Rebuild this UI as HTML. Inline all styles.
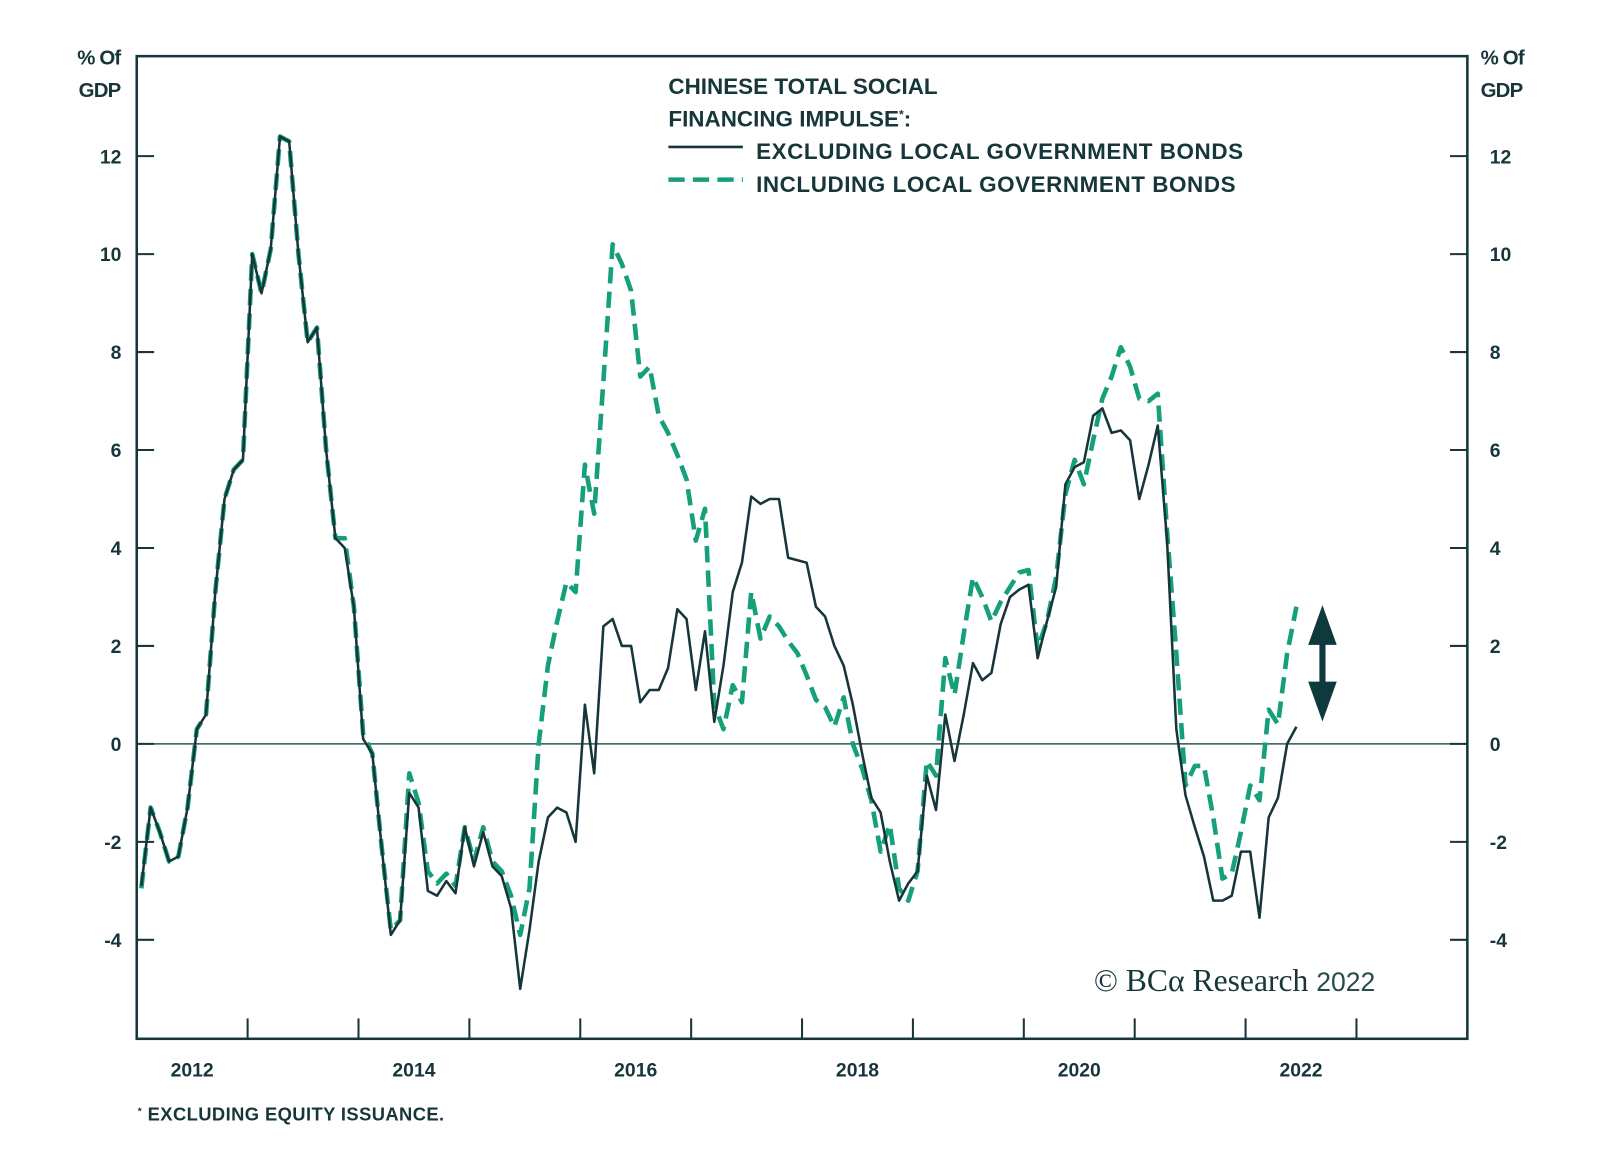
<!DOCTYPE html>
<html><head><meta charset="utf-8"><style>
html,body{margin:0;padding:0;background:#fff;}
svg{display:block;}
text{font-family:"Liberation Sans",sans-serif;fill:#17363a;}
.b{font-weight:bold;}
</style></head><body>
<svg id="chart" width="1600" height="1168" viewBox="0 0 1568 1144.6" xmlns="http://www.w3.org/2000/svg">
<g id="axes"></g>
<g id="series"></g>
<g>
<text x="655" y="92" font-size="22" class="b" letter-spacing="0">CHINESE TOTAL SOCIAL</text>
<text x="655" y="124" font-size="22" class="b" letter-spacing="0">FINANCING IMPULSE<tspan font-size="12" dy="-8">*</tspan><tspan dy="8">:</tspan></text>
<line x1="655" y1="144" x2="728" y2="144" stroke="#17363a" stroke-width="2.5"/>
<line x1="655" y1="176" x2="728" y2="176" stroke="#15a07b" stroke-width="4.5" stroke-dasharray="16,8"/>
<text x="741" y="156" font-size="22" class="b" letter-spacing="0.55">EXCLUDING LOCAL GOVERNMENT BONDS</text>
<text x="741" y="188" font-size="22" class="b" letter-spacing="0.55">INCLUDING LOCAL GOVERNMENT BONDS</text>
</g>
<text x="118" y="63" font-size="20" class="b" text-anchor="end" letter-spacing="-0.8">% Of</text>
<text x="118" y="95" font-size="20" class="b" text-anchor="end" letter-spacing="-0.8">GDP</text>
<text x="1451" y="63" font-size="20" class="b" letter-spacing="-0.8">% Of</text>
<text x="1451" y="95" font-size="20" class="b" letter-spacing="-0.8">GDP</text>
<g>
<text x="1072" y="971" font-size="31" style="font-family:'Liberation Serif',serif">© BCα Research <tspan style="font-family:'Liberation Sans',sans-serif" font-size="26" fill="#2b4a4d">2022</tspan></text>
</g>
<text x="135" y="1098" font-size="18" class="b" letter-spacing="0.4"><tspan font-size="10" dy="-6">*</tspan><tspan dy="6"> EXCLUDING EQUITY ISSUANCE.</tspan></text>
<g>
<rect x="1293" y="620" width="6" height="60" fill="#0f3a3d"/>
<polygon points="1296,593 1282,632 1310,632" fill="#0f3a3d"/>
<polygon points="1296,707 1282,668 1310,668" fill="#0f3a3d"/>
</g>
</svg>
<script>
// monthly data starting Jan 2012
const startYear = 2012;
const yTicks = [12, 10, 8, 6, 4, 2, 0, -2, -4];
const yearLabels = [2012, 2014, 2016, 2018, 2020, 2022];
const excluding = [-2.9,-1.3,-1.8,-2.4,-2.3,-1.3,0.3,0.6,3.1,5.0,5.6,5.8,10.0,9.2,10.1,12.4,12.3,10.0,8.2,8.5,6.0,4.2,4.0,2.8,0.1,-0.2,-2.1,-3.9,-3.6,-1.0,-1.3,-3.0,-3.1,-2.8,-3.05,-1.7,-2.5,-1.8,-2.5,-2.7,-3.35,-5.0,-3.8,-2.4,-1.5,-1.3,-1.4,-2.0,0.8,-0.6,2.4,2.55,2.0,2.0,0.85,1.1,1.1,1.55,2.75,2.55,1.1,2.3,0.45,1.6,3.1,3.7,5.05,4.9,5.0,5.0,3.8,3.75,3.7,2.8,2.6,2.0,1.6,0.8,-0.2,-1.1,-1.4,-2.4,-3.2,-2.85,-2.6,-0.65,-1.35,0.6,-0.35,0.6,1.65,1.3,1.45,2.45,3.0,3.15,3.25,1.75,2.5,3.2,5.3,5.65,5.75,6.7,6.85,6.35,6.4,6.2,5.0,5.7,6.5,4.15,0.3,-1.05,-1.7,-2.3,-3.2,-3.2,-3.1,-2.2,-2.2,-3.55,-1.5,-1.1,0.0,0.35];
const including = [-2.95,-1.3,-1.8,-2.4,-2.3,-1.3,0.3,0.6,3.1,5.0,5.6,5.8,10.0,9.2,10.1,12.4,12.3,10.0,8.2,8.5,6.0,4.2,4.2,2.8,0.2,-0.2,-2.1,-3.8,-3.6,-0.6,-1.2,-2.6,-2.85,-2.65,-2.9,-1.7,-2.4,-1.7,-2.4,-2.6,-3.1,-3.9,-2.95,0.0,1.6,2.5,3.3,3.1,5.7,4.7,7.4,10.2,9.8,9.25,7.5,7.7,6.7,6.35,5.9,5.4,4.15,4.8,0.8,0.3,1.2,0.85,3.1,2.15,2.6,2.4,2.1,1.85,1.4,0.9,0.75,0.35,0.95,0.0,-0.5,-1.15,-2.2,-1.65,-2.95,-3.2,-2.6,-0.35,-0.65,1.75,1.0,2.25,3.4,3.0,2.5,2.9,3.2,3.5,3.55,1.95,2.5,3.4,5.1,5.8,5.3,6.2,7.05,7.5,8.1,7.7,7.05,7.0,7.15,4.35,1.85,-0.85,-0.45,-0.45,-1.5,-2.75,-2.65,-1.8,-0.85,-1.15,0.7,0.4,1.85,2.8];

const NS = "http://www.w3.org/2000/svg";
const L = 134, R = 1438, T = 55, B = 1018;
function xScale(t){ return L + (t - 2012) * (R - L) / 12; }
function yScale(v){ return 729 - v * 48; }
function monthT(i){ return startYear + (i + 0.5) / 12; }
function mk(tag, attrs, parent){ const e = document.createElementNS(NS, tag); for (const k in attrs) e.setAttribute(k, attrs[k]); parent.appendChild(e); return e; }

const axes = document.getElementById('axes');
const frame = mk('rect', {x:L, y:T, width:R-L, height:B-T, fill:'none', stroke:'#17363a', 'stroke-width':2.5}, axes);


const zero = mk('line', {x1:L, x2:R, y1:yScale(0), y2:yScale(0), stroke:'#2f5558', 'stroke-width':1.5}, axes);


yTicks.forEach(v => {
  const y = yScale(v);
  const tl = mk('line', {x1:L, x2:L+17, y1:y, y2:y, stroke:'#17363a', 'stroke-width':2}, axes);
  
  
  const tr = mk('line', {x1:R-17, x2:R, y1:y, y2:y, stroke:'#17363a', 'stroke-width':2}, axes);
  
  
  const a = mk('text', {x:119, y:y+7, 'font-size':19, 'font-weight':'bold', 'text-anchor':'end'}, axes);
  a.textContent = String(v);
  
  
  const b = mk('text', {x:1460, y:y+7, 'font-size':19, 'font-weight':'bold'}, axes);
  b.textContent = String(v);
  
  
});
for (let yr = 2013; yr <= 2023; yr++) {
  const x = xScale(yr);
  const t = mk('line', {x1:x, x2:x, y1:B-20, y2:B, stroke:'#17363a', 'stroke-width':2}, axes);
  
  
}
yearLabels.forEach(yr => {
  const t = mk('text', {x:xScale(yr + 0.5), y:1055, 'font-size':19, 'font-weight':'bold', 'text-anchor':'middle'}, axes);
  t.textContent = String(yr);
  
  
});

const series = document.getElementById('series');
function pathOf(arr){ return arr.map((v,i) => (i ? 'L' : 'M') + xScale(monthT(i)).toFixed(1) + ',' + yScale(v).toFixed(1)).join(' '); }
const lineInc = mk('path', {d:pathOf(including), fill:'none', stroke:'#15a07b', 'stroke-width':4.5, 'stroke-dasharray':'16,8', 'stroke-linejoin':'round'}, series);


const lineExc = mk('path', {d:pathOf(excluding), fill:'none', stroke:'#17363a', 'stroke-width':2.5, 'stroke-linejoin':'round'}, series);


</script>
</body></html>
